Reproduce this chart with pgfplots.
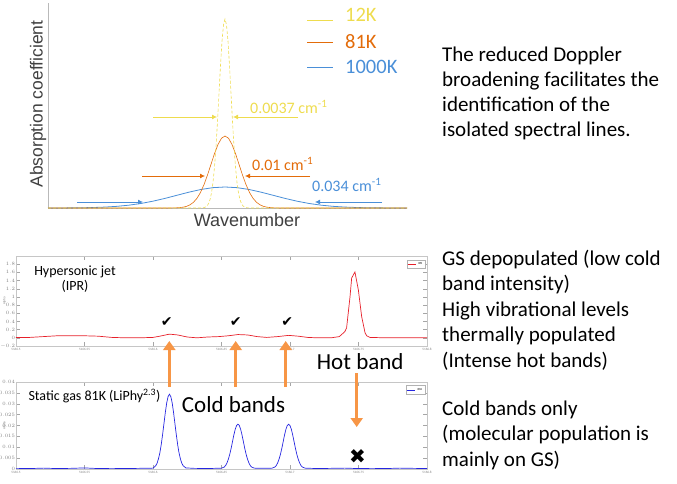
\documentclass[border=0pt]{standalone}
\usepackage{pgfplots}
\pgfplotsset{compat=1.18}
\usetikzlibrary{arrows.meta}
\usepackage{fontspec}
\setmainfont{Carlito}
\newfontfamily\arial{Liberation Sans}
\newfontfamily\dejavu{DejaVu Sans}
\definecolor{cyel}{HTML}{EEDC4E}
\definecolor{corg}{HTML}{E36C0A}
\definecolor{cblu}{HTML}{4A8FD8}
\definecolor{carr}{HTML}{F79646}
\definecolor{cred}{HTML}{E6202A}
\definecolor{cline}{HTML}{2626E0}

\pgfplotsset{
  matlab/.style={
    scale only axis,
    axis line style={gray!45},
    tick style={gray!70, line width=0.3pt},
    major tick length=4pt,
    tick align=inside,
    tick label style={font=\fontsize{3.3}{4}\selectfont, text=gray, inner sep=0.8pt},
    xticklabel style={yshift=-0.8pt},
    ylabel style={font=\fontsize{3.3}{4}\selectfont, text=gray,
      at={(axis description cs:-0.028,0.5)}, anchor=center},
    xmin=0, xmax=0.3,
    xtick={0,0.05,0.1,0.15,0.2,0.25,0.3},
    xticklabels={5166.5,5166.55,5166.6,5166.65,5166.7,5166.75,5166.8},
    legend style={font=\fontsize{3}{3}\selectfont, draw=gray!60, inner sep=0.5pt,
      at={(0.995,0.96)}, anchor=north east},
    legend image code/.code={\draw[#1] (0pt,0pt) -- (8pt,0pt);},
  }
}

\begin{document}
\begin{tikzpicture}[x=1pt,y=1pt]
\useasboundingbox (0,0) rectangle (677,483);

% Doppler widths
\begin{axis}[at={(48pt,275pt)}, anchor=south west, scale only axis,
  width=359pt, height=205pt,
  xmin=-177, xmax=182, ymin=0, ymax=205,
  axis x line=bottom, axis y line=left,
  axis line style={draw=gray!55, -},
  ticks=none, clip=false]
\addplot[color=cblu, line width=0.8pt] coordinates {
 (-177,0.03) (-168,0.05) (-156,0.11) (-144,0.23) (-132,0.48) (-120,0.92) (-108,1.67)
 (-96,2.84) (-84,4.54) (-72,6.82) (-60,9.61) (-48,12.74) (-36,15.85) (-24,18.53)
 (-12,20.35) (0,21) (12,20.35) (24,18.53) (36,15.85) (48,12.74) (60,9.61) (72,6.82)
 (84,4.54) (96,2.84) (108,1.67) (120,0.92) (132,0.48) (144,0.23) (156,0.11) (168,0.05)
 (182,0.02)};
\addplot[color=corg, line width=0.6pt] coordinates {
 (-177,0) (-60,0) (-52.5,0.06) (-49,0.16) (-45.5,0.37) (-42,0.80) (-38.5,1.64) (-35,3.16)
 (-31.5,5.73) (-28,9.74) (-24.5,15.57) (-21,23.38) (-17.5,32.96) (-14,43.67)
 (-10.5,54.35) (-7,63.54) (-3.5,69.78) (0,72) (3.5,69.78) (7,63.54) (10.5,54.35)
 (14,43.67) (17.5,32.96) (21,23.38) (24.5,15.57) (28,9.74) (31.5,5.73) (35,3.16)
 (38.5,1.64) (42,0.80) (45.5,0.37) (49,0.16) (52.5,0.06) (60,0) (182,0)};
\addplot[color=cyel, densely dashed, line width=0.6pt] coordinates {
 (-177,0) (-30,0) (-24,0.06) (-22.5,0.17) (-21,0.42) (-19.5,0.96) (-18,2.10)
 (-16.5,4.31) (-15,8.30) (-13.5,15.04) (-12,25.57) (-10.5,40.88) (-9,61.37)
 (-7.5,86.52) (-6,114.63) (-4.5,142.66) (-3,166.79) (-1.5,183.18) (0,189)
 (1.5,183.18) (3,166.79) (4.5,142.66) (6,114.63) (7.5,86.52) (9,61.37) (10.5,40.88)
 (12,25.57) (13.5,15.04) (15,8.30) (16.5,4.31) (18,2.10) (19.5,0.96) (21,0.42)
 (22.5,0.17) (24,0.06) (30,0) (182,0)};
% width arrows
\draw[cyel, line width=0.8pt, -{Latex[length=5pt,width=5pt]}] (axis cs:-72,91) -- (axis cs:-8,91);
\draw[cyel, line width=0.8pt, -{Latex[length=5pt,width=5pt]}] (axis cs:73,91) -- (axis cs:8,91);
\draw[corg, line width=0.8pt, -{Latex[length=5pt,width=5pt]}] (axis cs:-83,32) -- (axis cs:-20,32);
\draw[corg, line width=0.8pt, -{Latex[length=5pt,width=5pt]}] (axis cs:85,32) -- (axis cs:20,32);
\draw[cblu, line width=0.8pt, -{Latex[length=5pt,width=5pt]}] (axis cs:-148,6) -- (axis cs:-82,6);
\draw[cblu, line width=0.8pt, -{Latex[length=5pt,width=5pt]}] (axis cs:157,6) -- (axis cs:90,6);
\node[anchor=west, text=cyel, font=\fontsize{16}{16}\selectfont, inner sep=0pt] at (axis cs:25,101) {0.0037 cm\textsuperscript{-1}};
\node[anchor=west, text=corg, font=\fontsize{16}{16}\selectfont, inner sep=0pt] at (axis cs:27,44) {0.01 cm\textsuperscript{-1}};
\node[anchor=west, text=cblu, font=\fontsize{16}{16}\selectfont, inner sep=0pt] at (axis cs:87,23) {0.034 cm\textsuperscript{-1}};
\end{axis}

% top legend and labels
\draw[cyel, line width=1pt] (307,462) -- (333,462);
\draw[corg, line width=1pt] (307,440) -- (333,440);
\draw[cblu, line width=1pt] (307,415) -- (333,415);
\node[anchor=west, inner sep=0pt, text=cyel, font=\fontsize{20.5}{20.5}\selectfont] at (345,468) {12K};
\node[anchor=west, inner sep=0pt, text=corg, font=\fontsize{20.5}{20.5}\selectfont] at (345,441) {81K};
\node[anchor=west, inner sep=0pt, text=cblu, font=\fontsize{20.5}{20.5}\selectfont] at (345,416) {1000K};
\node[rotate=90, inner sep=0pt, text=black!75, font=\arial\fontsize{17.5}{17.5}\selectfont] at (38,379) {Absorption coefficient};
\node[inner sep=0pt, text=black!75, font=\arial\fontsize{18}{18}\selectfont] at (247,263) {Wavenumber};

% Hypersonic jet
\begin{axis}[matlab, at={(16pt,137pt)}, anchor=south west,
  width=411pt, height=90pt, ymin=-0.2, ymax=2,
  ytick={-0.2,0,0.2,0.4,0.6,0.8,1,1.2,1.4,1.6,1.8},
  yticklabel style={/pgf/number format/.cd, fixed, precision=1},
  ylabel={Alpha}]
\addplot[color=cred, line width=0.7pt] coordinates {
 (0.000,0.01) (0.010,0.01) (0.020,0.03) (0.030,0.05) (0.040,0.05) (0.050,0.05)
 (0.060,0.04) (0.070,0.01) (0.080,0.00) (0.090,0.00) (0.100,0.01) (0.105,0.04)
 (0.112,0.09) (0.118,0.07) (0.125,0.02) (0.132,0.00) (0.140,0.02) (0.148,0.03)
 (0.155,0.05) (0.162,0.08) (0.169,0.07) (0.176,0.03) (0.183,0.01) (0.191,0.03)
 (0.199,0.06) (0.206,0.04) (0.213,0.01) (0.220,0.00) (0.230,0.00) (0.236,0.03)
 (0.2400,0.15) (0.2413,0.24) (0.2438,1.00) (0.2450,1.46) (0.2474,1.61) (0.2499,1.17)
 (0.2523,0.52) (0.2548,0.12) (0.2560,0.05) (0.2584,0.01) (0.270,0.00) (0.300,0.00)};
\addlegendentry{IPR}
\end{axis}

% Static gas
\begin{axis}[matlab, at={(16pt,14pt)}, anchor=south west,
  width=411pt, height=87pt, ymin=0, ymax=0.04,
  ytick={0,0.005,0.01,0.015,0.02,0.025,0.03,0.035,0.04},
  scaled y ticks=false,
  yticklabel style={/pgf/number format/.cd, fixed, precision=3},
  ylabel={Alpha}]
\addplot[color=cline, line width=0.7pt] coordinates {
 (0.000,0.0003) (0.010,0.0002) (0.020,0.0004) (0.030,0.0002) (0.040,0.0003)
 (0.050,0.0005) (0.060,0.0002) (0.070,0.0003) (0.080,0.0002) (0.090,0.0003)
 (0.100,0.0004) (0.102,0.0015) (0.103,0.0027) (0.104,0.0047) (0.105,0.0074)
 (0.106,0.0112) (0.107,0.0158) (0.108,0.0209) (0.109,0.0260) (0.110,0.0304)
 (0.111,0.0333) (0.112,0.0344) (0.113,0.0333) (0.114,0.0304) (0.115,0.0260)
 (0.116,0.0209) (0.117,0.0158) (0.118,0.0112) (0.119,0.0074) (0.120,0.0047)
 (0.121,0.0027) (0.122,0.0015) (0.124,0.0005) (0.130,0.0003) (0.140,0.0002)
 (0.150,0.0004) (0.152,0.0009) (0.153,0.0016) (0.154,0.0028) (0.155,0.0045)
 (0.156,0.0067) (0.157,0.0094) (0.158,0.0125) (0.159,0.0156) (0.160,0.0182)
 (0.161,0.0200) (0.162,0.0206) (0.163,0.0200) (0.164,0.0182) (0.165,0.0156)
 (0.166,0.0125) (0.167,0.0094) (0.168,0.0067) (0.169,0.0045) (0.170,0.0028)
 (0.171,0.0016) (0.172,0.0009) (0.174,0.0004) (0.180,0.0003) (0.187,0.0004)
 (0.189,0.0009) (0.190,0.0016) (0.191,0.0028) (0.192,0.0045) (0.193,0.0067)
 (0.194,0.0094) (0.195,0.0125) (0.196,0.0156) (0.197,0.0182) (0.198,0.0200)
 (0.199,0.0206) (0.200,0.0200) (0.201,0.0182) (0.202,0.0156) (0.203,0.0125)
 (0.204,0.0094) (0.205,0.0067) (0.206,0.0045) (0.207,0.0028) (0.208,0.0016)
 (0.209,0.0009) (0.211,0.0004) (0.220,0.0002) (0.230,0.0003) (0.240,0.0004)
 (0.250,0.0002) (0.260,0.0003) (0.270,0.0002) (0.280,0.0004) (0.290,0.0003)
 (0.300,0.0002)};
\addlegendentry{81K}
\end{axis}

% annotations on the spectra
\node[anchor=base, inner sep=0pt, font=\fontsize{14}{14}\selectfont] at (75,207.3) {Hypersonic jet};
\node[anchor=base, inner sep=0pt, font=\fontsize{14}{14}\selectfont] at (75,193) {(IPR)};
\node[anchor=base west, inner sep=0pt, font=\fontsize{14}{14}\selectfont] at (28.3,82.3) {Static gas 81K (LiPhy\textsuperscript{2.3})};
\node[anchor=base west, inner sep=0pt, font=\fontsize{23}{23}\selectfont] at (181.7,70.3) {Cold bands};
\node[anchor=base west, inner sep=0pt, font=\fontsize{23}{23}\selectfont] at (316.7,114) {Hot band};
\foreach \cx in {166.7,235.7,287.3}
  \node[inner sep=0pt, font=\dejavu\fontsize{14}{14}\selectfont] at (\cx,160.5) {✔};
\node[inner sep=0pt, font=\dejavu\fontsize{20}{20}\selectfont] at (357.5,26) {✖};
\foreach \cx in {169.3,235.7,285.7}
  \draw[carr, line width=3.5pt, -{Triangle[width=12pt,length=9pt]}] (\cx,96) -- (\cx,142);
\draw[carr, line width=3.5pt, -{Triangle[width=12pt,length=9pt]}] (356.7,110) -- (356.7,56);

% right-hand text
\begin{scope}[every node/.style={anchor=base west, inner sep=0pt, font=\fontsize{21}{21}\selectfont}]
\node at (442,421) {The reduced Doppler};
\node at (442,396) {broadening facilitates the};
\node at (442,371) {identification of the};
\node at (442,346) {isolated spectral lines.};
\node at (442,218) {GS depopulated (low cold};
\node at (442,192.5) {band intensity)};
\node at (442,167) {High vibrational levels};
\node at (442,141.5) {thermally populated};
\node at (442,116) {(Intense hot bands)};
\node at (442,67.3) {Cold bands only};
\node at (442,42.3) {(molecular population is};
\node at (442,16.3) {mainly on GS)};
\end{scope}
\end{tikzpicture}
\end{document}
